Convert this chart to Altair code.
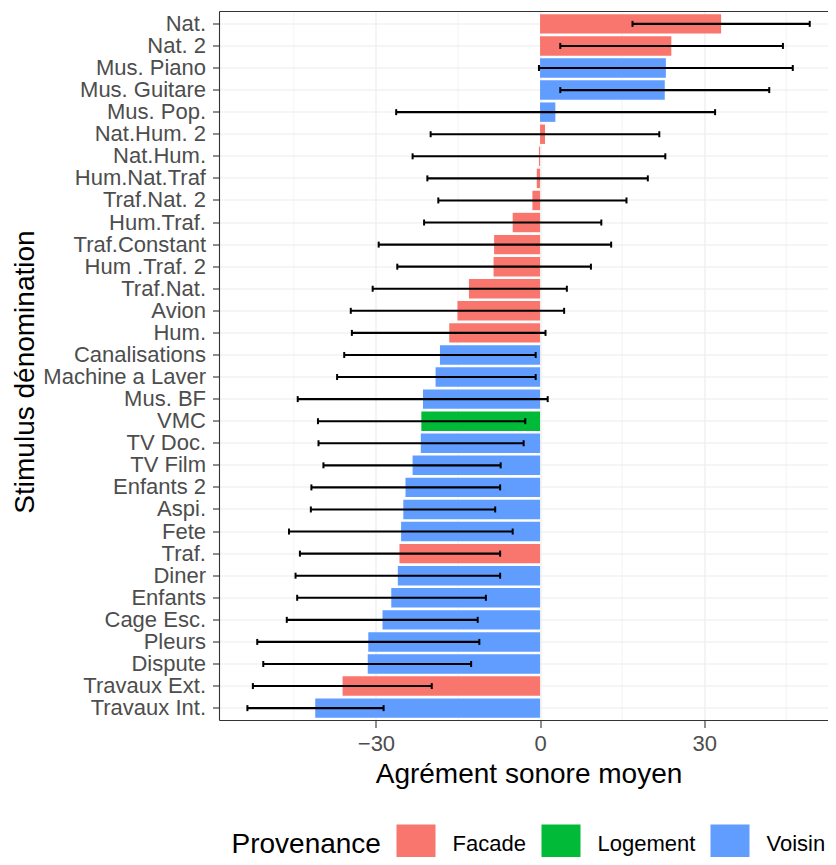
import altair as alt
import pandas as pd

categories = ["Nat.", "Nat. 2", "Mus. Piano", "Mus. Guitare", "Mus. Pop.", "Nat.Hum. 2",
              "Nat.Hum.", "Hum.Nat.Traf", "Traf.Nat. 2", "Hum.Traf.", "Traf.Constant",
              "Hum .Traf. 2", "Traf.Nat.", "Avion", "Hum.", "Canalisations",
              "Machine a Laver", "Mus. BF", "VMC", "TV Doc.", "TV Film", "Enfants 2",
              "Aspi.", "Fete", "Traf.", "Diner", "Enfants", "Cage Esc.", "Pleurs",
              "Dispute", "Travaux Ext.", "Travaux Int."]
provenance = ["Facade", "Facade", "Voisin", "Voisin", "Voisin", "Facade", "Facade", "Facade",
              "Facade", "Facade", "Facade", "Facade", "Facade", "Facade", "Facade", "Voisin",
              "Voisin", "Voisin", "Logement", "Voisin", "Voisin", "Voisin", "Voisin", "Voisin",
              "Facade", "Voisin", "Voisin", "Voisin", "Voisin", "Voisin", "Facade", "Voisin"]
means = [33.1, 24.0, 23.0, 22.8, 2.8, 0.9, -0.2, -0.6, -1.4, -5.0, -8.4, -8.5, -13.0, -15.1,
         -16.6, -18.3, -19.1, -21.4, -21.7, -21.8, -23.3, -24.6, -25.0, -25.4, -25.7, -26.0,
         -27.2, -28.8, -31.4, -31.5, -36.1, -41.1]
err_low = [16.9, 3.7, -0.2, 3.7, -26.3, -20.0, -23.3, -20.6, -18.6, -21.2, -29.5, -26.1, -30.6,
           -34.6, -34.4, -35.8, -37.1, -44.3, -40.6, -40.5, -39.6, -41.8, -41.9, -45.9, -43.9,
           -44.7, -44.4, -46.3, -51.7, -50.6, -52.5, -53.5]
err_high = [49.3, 44.4, 46.2, 41.9, 32.0, 21.8, 22.9, 19.7, 15.8, 11.2, 13.0, 9.3, 4.9, 4.4, 1.0,
            -0.8, -0.8, 1.4, -2.7, -3.0, -7.2, -7.3, -8.2, -5.0, -7.3, -7.3, -9.9, -11.4, -11.1,
            -12.6, -19.8, -28.6]
minor_ticks = [-45, -15, 15, 45]
major_ticks = [-30, 0, 30]
legend_order = ["Facade", "Logement", "Voisin"]
legend_colors = ["#F8766D", "#00BA38", "#619CFF"]

df = pd.DataFrame({"stim": categories, "prov": provenance, "mean": means,
                   "lo": err_low, "hi": err_high})
minor_df = pd.DataFrame({"v": minor_ticks})
frame_df = pd.DataFrame({"f": [0]})

FONT = "Liberation Sans"
W, H = 608.5, 709

xscale = alt.Scale(domain=[-58.6, 52.64], nice=False, zero=False)
yscale = alt.Scale(paddingInner=0.12, paddingOuter=0.12)

xaxis = alt.Axis(values=major_ticks, grid=True, gridColor="#EBEBEB", gridWidth=1.1,
                 domain=False, tickColor="#333333", tickWidth=1.1, tickSize=7,
                 labelFontSize=22, labelColor="#4D4D4D", labelPadding=6, labelFont=FONT,
                 title="Agrément sonore moyen", titleFontSize=28, titleFont=FONT,
                 titleColor="black", titleFontWeight="normal", titleBaseline="alphabetic",
                 titleY=62, titleX=309)
yaxis = alt.Axis(grid=True, gridColor="#EBEBEB", gridWidth=1.1, bandPosition=0.5,
                 domain=False, tickColor="#333333", tickWidth=1.1, tickSize=7,
                 labelFontSize=22, labelColor="#4D4D4D", labelPadding=7, labelFont=FONT,
                 title="Stimulus dénomination", titleFontSize=28, titleFont=FONT,
                 titleColor="black", titleFontWeight="normal", titleBaseline="alphabetic",
                 titleAngle=270, titleX=-186.5, titleY=360, titleAlign="center")

minor = alt.Chart(minor_df).mark_rule(color="#EBEBEB", strokeWidth=0.6).encode(
    x=alt.X("v:Q", scale=xscale, axis=xaxis)
)

bars = alt.Chart(df).mark_bar().encode(
    x=alt.X("mean:Q", scale=xscale, axis=xaxis),
    y=alt.Y("stim:N", sort=categories, scale=yscale, axis=yaxis),
    color=alt.Color("prov:N", scale=alt.Scale(domain=legend_order, range=legend_colors),
                    legend=alt.Legend(title="Provenance", orient="none", legendX=12,
                                      legendY=813, direction="horizontal",
                                      titleOrient="left", titleFontSize=28,
                                      titleFont=FONT, titleColor="black",
                                      titleFontWeight="normal", titleAnchor="middle",
                                      titleBaseline="middle",
                                      titlePadding=15, labelFontSize=22, labelFont=FONT,
                                      labelColor="black", symbolType="square",
                                      symbolSize=1521, symbolStrokeWidth=0,
                                      symbolOpacity=1,
                                      labelOffset=17, columnPadding=15)),
)

rules = alt.Chart(df).mark_rule(color="black", strokeWidth=2.1).encode(
    x=alt.X("lo:Q", scale=xscale),
    x2="hi:Q",
    y=alt.Y("stim:N", sort=categories, scale=yscale),
)
cap_lo = alt.Chart(df).mark_tick(color="black", thickness=2, size=6, opacity=1).encode(
    x=alt.X("lo:Q", scale=xscale),
    y=alt.Y("stim:N", sort=categories, scale=yscale),
)
cap_hi = alt.Chart(df).mark_tick(color="black", thickness=2, size=6, opacity=1).encode(
    x=alt.X("hi:Q", scale=xscale),
    y=alt.Y("stim:N", sort=categories, scale=yscale),
)

# panel border (right side lies beyond the picture in the reference)
border_top = alt.Chart(frame_df).mark_rule(color="#333333", strokeWidth=1.1).encode(
    x=alt.value(0), x2=alt.value(W), y=alt.value(0))
border_bottom = alt.Chart(frame_df).mark_rule(color="#333333", strokeWidth=1.1).encode(
    x=alt.value(0), x2=alt.value(W), y=alt.value(H))
border_left = alt.Chart(frame_df).mark_rule(color="#333333", strokeWidth=1.1).encode(
    x=alt.value(0), y=alt.value(0), y2=alt.value(H))

chart = alt.layer(minor, bars, rules, cap_lo, cap_hi,
                  border_top, border_bottom, border_left).properties(
    width=W, height=H,
    background="white",
    autosize=alt.AutoSizeParams(type="none"),
    padding={"left": 211.5, "top": 3.5, "right": 0, "bottom": 136.5},
).configure_view(stroke="transparent", strokeWidth=0)

chart.save("out.html", embed_options={"renderer": "svg", "actions": False})
